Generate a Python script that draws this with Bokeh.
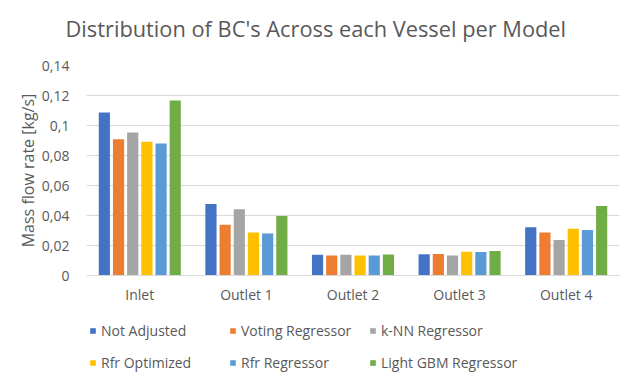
from bokeh.plotting import figure
from bokeh.layouts import column
from bokeh.models import (ColumnDataSource, FactorRange, Legend, LegendItem,
                          FixedTicker, CustomJSTickFormatter, Range1d)
from bokeh.transform import dodge
from bokeh.embed import file_html
from bokeh.resources import INLINE

vessels = ["Inlet", "Outlet 1", "Outlet 2", "Outlet 3", "Outlet 4"]
models = ["Not Adjusted", "Voting Regressor", "k-NN Regressor",
          "Rfr Optimized", "Rfr Regressor", "Light GBM Regressor"]
not_adjusted = [0.1087, 0.0476, 0.0138, 0.0142, 0.0322]
voting_regressor = [0.0909, 0.0338, 0.0133, 0.0144, 0.0287]
knn_regressor = [0.0953, 0.0442, 0.0138, 0.0133, 0.0236]
rfr_optimized = [0.0891, 0.0287, 0.0133, 0.0158, 0.0311]
rfr_regressor = [0.0880, 0.0280, 0.0133, 0.0156, 0.0304]
light_gbm = [0.1167, 0.0396, 0.0140, 0.0164, 0.0464]
y_ticks = [0, 0.02, 0.04, 0.06, 0.08, 0.10, 0.12, 0.14]
title_text = "Distribution of BC's Across each Vessel per Model"

colors = ["#4472C4", "#ED7D31", "#A5A5A5", "#FFC000", "#5B9BD5", "#70AD47"]
series = [not_adjusted, voting_regressor, knn_regressor,
          rfr_optimized, rfr_regressor, light_gbm]
keys = ["s0", "s1", "s2", "s3", "s4", "s5"]

data = {"vessel": vessels}
for k, s in zip(keys, series):
    data[k] = s
source = ColumnDataSource(data)

FONT = "Open Sans"
GREY = "#595959"
step = 0.133
x_range = FactorRange(*vessels, range_padding=0)

# Top strip carrying the chart title
tf = figure(width=624, height=55, output_backend="svg", toolbar_location=None,
            title=title_text, x_range=Range1d(0, 1), y_range=Range1d(0, 1),
            x_axis_location=None, y_axis_location=None,
            min_border_left=86, min_border_right=5, min_border_top=48,
            min_border_bottom=0)
tf.grid.grid_line_color = None
tf.outline_line_color = None
tf.title.align = "left"
tf.title.offset = -21
tf.title.vertical_align = "middle"
tf.title.standoff = 10
tf.title.text_font = FONT
tf.title.text_font_size = "21.8px"
tf.title.text_font_style = "normal"
tf.title.text_color = GREY

# Main chart
p = figure(x_range=x_range, y_range=Range1d(0, 0.14), title=None,
           width=624, height=251, output_backend="svg", toolbar_location=None,
           min_border_left=86, min_border_right=5, min_border_top=10,
           min_border_bottom=25)

renderers = []
for i, (k, c) in enumerate(zip(keys, colors)):
    r = p.vbar(x=dodge("vessel", (i - 2.5) * step, range=x_range), top=k,
               width=0.105, source=source, fill_color=c, line_color=None)
    renderers.append(r)

p.yaxis.ticker = FixedTicker(ticks=y_ticks)
p.yaxis.formatter = CustomJSTickFormatter(
    code="return (Math.round(tick*100)/100).toString().replace('.', ',');")
p.yaxis.axis_label = "Mass flow rate [kg/s]"
p.yaxis.axis_label_text_font = FONT
p.yaxis.axis_label_text_font_size = "16px"
p.yaxis.axis_label_text_font_style = "normal"
p.yaxis.axis_label_text_color = GREY
p.yaxis.axis_label_standoff = 0
p.yaxis.axis_line_color = None
p.yaxis.major_tick_line_color = None
p.yaxis.minor_tick_line_color = None
p.yaxis.major_label_text_font = FONT
p.yaxis.major_label_text_font_size = "14px"
p.yaxis.major_label_text_color = GREY
p.yaxis.major_label_standoff = 11

p.xaxis.axis_line_color = "#D9D9D9"
p.xaxis.major_tick_line_color = None
p.xaxis.minor_tick_line_color = None
p.xaxis.major_label_text_font = FONT
p.xaxis.major_label_text_font_size = "14px"
p.xaxis.major_label_text_color = GREY
p.xaxis.major_label_standoff = 3

p.xgrid.grid_line_color = None
p.ygrid.grid_line_color = "#D9D9D9"
p.outline_line_color = None

# Strip below the chart that holds the legend; its swatch renderers use the
# same data but a y range above the values, so only the legend is visible.
lf = figure(width=624, height=66, output_backend="svg", toolbar_location=None,
            x_range=x_range, y_range=Range1d(1, 2),
            x_axis_location=None, y_axis_location=None,
            min_border_left=86, min_border_right=5, min_border_top=0,
            min_border_bottom=0)
lf.grid.grid_line_color = None
lf.outline_line_color = None
swatches = []
for i, (k, c) in enumerate(zip(keys, colors)):
    swatches.append(lf.vbar(x=dodge("vessel", (i - 2.5) * step, range=x_range),
                            top=k, width=0.105, source=source, fill_color=c,
                            line_color=None))
items = [LegendItem(label=m, renderers=[r]) for m, r in zip(models, swatches)]
legend = Legend(items=items, orientation="horizontal", ncols=3,
                location=(3, 0),
                label_text_font=FONT, label_text_font_size="14px",
                label_text_color=GREY, glyph_width=7, glyph_height=7,
                label_standoff=5, label_width=116, label_height=20,
                spacing=12, padding=0, margin=0, border_line_color=None,
                background_fill_alpha=0)
lf.add_layout(legend, "center")

layout = column(tf, p, lf, spacing=0)
open("out.html", "w").write(file_html(layout, INLINE))
